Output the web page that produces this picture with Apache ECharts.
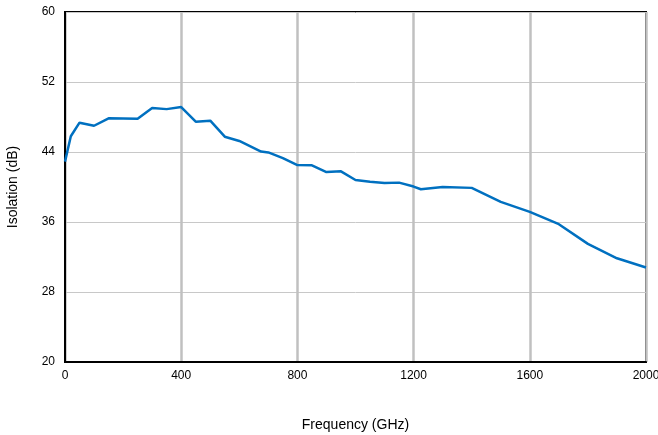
<!DOCTYPE html>
<html>
<head>
<meta charset="utf-8">
<script src="https://cdn.jsdelivr.net/npm/echarts@6/dist/echarts.min.js"></script>
<style>
html,body{margin:0;padding:0;background:#fff;}
#chart{width:658px;height:435px;}
</style>
</head>
<body>
<div id="chart"></div>
<script>
const freq = [0, 20, 50, 100, 150, 250, 300, 350, 400, 450, 500, 550, 600, 675, 700, 750, 800, 850, 900, 950, 1000, 1050, 1100, 1150, 1200, 1225, 1300, 1400, 1500, 1600, 1700, 1800, 1900, 2000];
const isolation = [42.9, 45.8, 47.35, 47.0, 47.85, 47.8, 49.03, 48.9, 49.14, 47.46, 47.58, 45.75, 45.26, 44.05, 43.95, 43.3, 42.5, 42.48, 41.71, 41.79, 40.8, 40.6, 40.46, 40.5, 40.05, 39.74, 40.0, 39.9, 38.3, 37.15, 35.75, 33.5, 31.85, 30.8];
const xTicks = [0, 400, 800, 1200, 1600, 2000];
const yTicks = [20, 28, 36, 44, 52, 60];

const chart = echarts.init(document.getElementById('chart'));
const font = 'Liberation Sans, Arial, sans-serif';
chart.setOption({
  animation: false,
  grid: {left: 65, right: 12, top: 12, bottom: 73, show: true, borderColor: '#000', borderWidth: 2, containLabel: false, outerBoundsMode: 'none'},
  xAxis: {
    type: 'value', min: xTicks[0], max: xTicks[xTicks.length-1], interval: 400,
    name: 'Frequency (GHz)', nameLocation: 'middle', nameGap: 56,
    nameTextStyle: {fontFamily: font, fontSize: 14, color: '#000'},
    axisLine: {show: true, lineStyle: {color: '#000', width: 2}},
    axisTick: {show: false},
    axisLabel: {fontFamily: font, fontSize: 12, color: '#000', margin: 8, formatter: v => String(v)},
    splitLine: {show: true, lineStyle: {color: '#c0c0c0', width: 2.5}}
  },
  yAxis: {
    type: 'value', min: yTicks[0], max: yTicks[yTicks.length-1], interval: 8,
    name: 'Isolation (dB)', nameLocation: 'middle', nameGap: 45,
    nameTextStyle: {fontFamily: font, fontSize: 14, color: '#000'},
    axisLine: {show: true, lineStyle: {color: '#000', width: 2}},
    axisTick: {show: false},
    axisLabel: {fontFamily: font, fontSize: 12, color: '#000', margin: 10, formatter: v => String(v)},
    splitLine: {show: true, lineStyle: {color: '#c8c8c8', width: 1}}
  },
  series: [{
    type: 'line',
    data: freq.map((f, i) => [f, isolation[i]]),
    showSymbol: false,
    lineStyle: {color: '#0070c0', width: 2.5},
    itemStyle: {color: '#0070c0'}
  }]
});
</script>
</body>
</html>
